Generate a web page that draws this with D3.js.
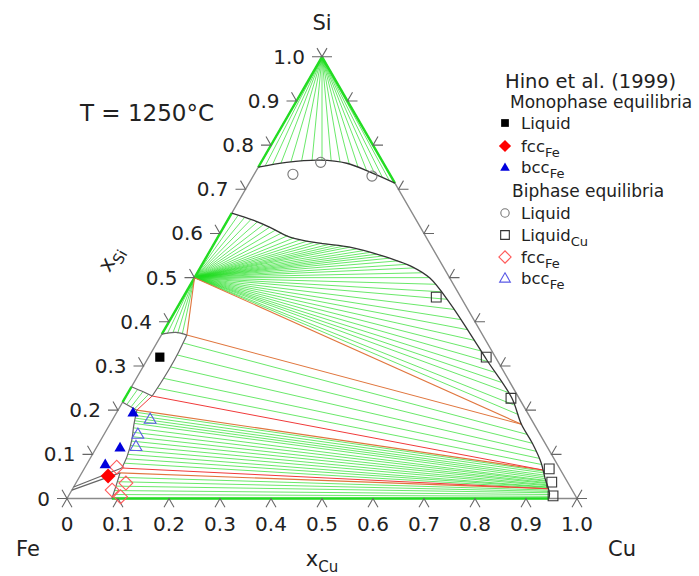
<!DOCTYPE html>
<html><head><meta charset="utf-8">
<script src="https://cdnjs.cloudflare.com/ajax/libs/d3/7.8.5/d3.min.js"></script>
<style>
body{margin:0;background:#fff}
svg{display:block}
text{font-family:"DejaVu Sans",Verdana,sans-serif;fill:#222}
</style></head>
<body><svg id="chart" width="699" height="576"></svg>
<script>
// ---------- DATA (ternary compositions: [xCu, xSi]) ----------
const tickValues = [0,0.1,0.2,0.3,0.4,0.5,0.6,0.7,0.8,0.9,1.0];
const tickLabels = ["0","0.1","0.2","0.3","0.4","0.5","0.6","0.7","0.8","0.9","1.0"];

const siCorner = [0,1];
const feSiPoint = [0,0.5];

// Si-rich liquidus boundary
const upperLiquidus = [[0,0.75],[0.05,0.761],[0.113,0.766],[0.169,0.759],[0.225,0.739],[0.286,0.714]];
// tie-line ends on it (Si + Liquid)
const siFanEnds = [[0.012,0.753],[0.025,0.756],[0.04,0.759],[0.058,0.762],[0.078,0.764],[0.098,0.765],
  [0.117,0.766],[0.136,0.764],[0.155,0.761],[0.175,0.757],[0.195,0.751],[0.215,0.744],[0.235,0.736],
  [0.255,0.727],[0.272,0.72]];

// Liquid(Cu) boundary
const liqCuCurve = [[0,0.646],[0.05,0.630],[0.091,0.614],[0.141,0.592],[0.207,0.578],[0.270,0.569],
  [0.338,0.551],[0.416,0.524],[0.462,0.499],[0.530,0.442],[0.603,0.374],[0.667,0.313],[0.758,0.228],
  [0.807,0.168],[0.850,0.125],[0.890,0.080],[0.915,0.045],[0.930,0.026],[0.940,0.012],[0.945,0]];
// FeSi + Liquid tie-line ends
const feSiFanEnds = [[0.015,0.641],[0.03,0.636],[0.045,0.632],[0.06,0.626],[0.075,0.620],[0.09,0.614],
  [0.105,0.608],[0.12,0.601],[0.135,0.595],[0.15,0.590],[0.165,0.586],[0.18,0.583],[0.195,0.580],
  [0.21,0.578],[0.225,0.575],[0.24,0.573],[0.255,0.571],[0.27,0.569],[0.285,0.565],[0.30,0.561],
  [0.315,0.557],[0.33,0.553],[0.345,0.549],[0.36,0.544],[0.38,0.538],[0.40,0.530],[0.42,0.522],
  [0.44,0.511],[0.46,0.500],[0.48,0.485],[0.50,0.468],[0.52,0.451],[0.545,0.428],[0.57,0.405],
  [0.595,0.382],[0.62,0.358],[0.645,0.334],[0.67,0.310],[0.695,0.286],[0.72,0.263],[0.745,0.240],
  [0.77,0.212],[0.79,0.190]];
// FeSi + Liquid(Fe-Si) short ties
const feSiL1Ends = [[0.01,0.373],[0.02,0.375],[0.03,0.374],[0.04,0.372]];

// Fe-Si liquid region boundaries
const l1Top = [[0,0.372],[0.025,0.376],[0.05,0.37]];
const l1Right = [[0.05,0.37],[0.053,0.333],[0.054,0.296],[0.053,0.262],[0.051,0.232]];
const l1Bottom = [[0,0.253],[0.03,0.241],[0.051,0.232]];
// bcc / fcc boundaries
const bccTop = [[0,0.218],[0.037,0.2]];
const bccRight = [[0.037,0.2],[0.048,0.166],[0.061,0.132],[0.07,0.096],[0.073,0.069]];
const fccRight = [[0.075,0.058],[0.082,0.028],[0.088,0]];
const lensUpper = [[0,0.026],[0.073,0.069]];
const lensLower = [[0,0.019],[0.075,0.058]];

// tie lines
const tiesL1LCu = [[[0.052,0.352],[0.83,0.145]],[[0.0535,0.325],[0.85,0.125]],[[0.054,0.298],[0.866,0.107]],
  [[0.0535,0.272],[0.88,0.091]],[[0.052,0.250],[0.892,0.077]]];
const tiesL1Bcc = [[[0.015,0.247],[0.011,0.213]],[[0.028,0.242],[0.022,0.208]],[[0.042,0.236],[0.031,0.203]]];
const tiesBccLCu = [[[0.039,0.195],[0.903,0.062]],[[0.041,0.188],[0.906,0.058]],[[0.043,0.182],[0.909,0.053]],
  [[0.045,0.176],[0.912,0.049]],[[0.047,0.170],[0.915,0.045]],[[0.050,0.160],[0.918,0.041]],
  [[0.054,0.150],[0.920,0.039]],[[0.058,0.140],[0.922,0.036]],[[0.061,0.130],[0.924,0.034]],
  [[0.064,0.120],[0.926,0.031]],[[0.067,0.110],[0.928,0.029]],[[0.069,0.100],[0.930,0.026]],
  [[0.071,0.090],[0.931,0.025]],[[0.072,0.080],[0.932,0.023]]];
const tiesFccLCu = [[[0.078,0.048],[0.935,0.019]],[[0.080,0.038],[0.937,0.016]],[[0.082,0.028],[0.939,0.013]],
  [[0.084,0.018],[0.941,0.009]],[[0.086,0.009],[0.943,0.005]]];
// thick edge tie segments
const edgeGreen = [[[0,0.75],[0,1]],[[0.286,0.714],[0,1]],[[0,0.5],[0,0.646]],[[0,0.372],[0,0.5]],
  [[0,0.218],[0,0.253]],[[0.088,0],[0.945,0]]];

// three-phase triangles
const orangeLines = [[[0,0.5],[0.807,0.168]],[[0,0.5],[0.05,0.37]],[[0.05,0.37],[0.807,0.168]],
  [[0.037,0.2],[0.901,0.0645]],[[0.075,0.058],[0.933,0.022]]];
const redLines = [[[0.051,0.232],[0.901,0.0645]],[[0.051,0.232],[0.037,0.2]],[[0.073,0.069],[0.933,0.022]]];

// experimental points (Hino et al. 1999)
const monoLiquid = [[0.022,0.320]];
const monoFcc = [[0.055,0.051]];
const monoBcc = [[0.033,0.193],[0.047,0.114],[0.037,0.076]];
const biLiquid = [[0.076,0.734],[0.117,0.761],[0.233,0.730]];
const biLiquidCu = [[0.496,0.456],[0.662,0.320],[0.757,0.227],[0.912,0.067],[0.932,0.037],[0.950,0.006]];
const biFcc = [[0.062,0.071],[0.098,0.035],[0.079,0.019],[0.103,0.004]];
const biBcc = [[0.074,0.178],[0.067,0.144],[0.077,0.1165]];

// ---------- DRAWING ----------
const svg = d3.select("#chart");
const xScale = d3.scaleLinear().domain([0,1]).range([67,577]);
const yScale = d3.scaleLinear().domain([0,1]).range([498.5,56.8]);
const X = d => xScale(d[0] + d[1]/2);
const Y = d => yScale(d[1]);
const straight = d3.line().x(X).y(Y);
const smooth = d3.line().x(X).y(Y).curve(d3.curveCatmullRom);

const GREEN = "#22dd22", ORANGE = "#e0763e", RED = "#f03a3a";

// triangle frame
svg.append("path").attr("d", straight([[0,0],[1,0],[0,1],[0,0]]))
  .attr("fill","none").attr("stroke","#8a8a8a").attr("stroke-width",1.4);

const gTies = svg.append("g").attr("fill","none").attr("stroke",GREEN).attr("stroke-width",0.8).attr("stroke-opacity",0.85);
siFanEnds.forEach(e => gTies.append("path").attr("d", straight([siCorner,e])));
feSiFanEnds.forEach(e => gTies.append("path").attr("d", straight([feSiPoint,e])));
feSiL1Ends.forEach(e => gTies.append("path").attr("d", straight([feSiPoint,e])));
[tiesL1LCu,tiesL1Bcc,tiesBccLCu,tiesFccLCu].forEach(arr =>
  arr.forEach(t => gTies.append("path").attr("d", straight(t))));
edgeGreen.forEach(t => svg.append("path").attr("d", straight(t)).attr("fill","none")
  .attr("stroke",GREEN).attr("stroke-width",2.4));

orangeLines.forEach(t => svg.append("path").attr("d", straight(t)).attr("fill","none")
  .attr("stroke",ORANGE).attr("stroke-width",1.1));
redLines.forEach(t => svg.append("path").attr("d", straight(t)).attr("fill","none")
  .attr("stroke",RED).attr("stroke-width",1.0));

// phase boundaries
[upperLiquidus, liqCuCurve].forEach(c => svg.append("path").attr("d", smooth(c))
  .attr("fill","none").attr("stroke","#333").attr("stroke-width",1.3));
[l1Top,l1Right,l1Bottom,bccTop,bccRight,fccRight,lensUpper,lensLower].forEach(c =>
  svg.append("path").attr("d", smooth(c)).attr("fill","none").attr("stroke","#666").attr("stroke-width",1.2));

// ticks
const tk = 10, c60 = 0.5*tk, s60 = 0.866*tk;
const gt = svg.append("g").attr("stroke","#666").attr("stroke-width",1.1).attr("fill","none");
tickValues.forEach(v => {
  const L = [0,v], R = [1-v,v], B = [v,0];
  let x = X(L), y = Y(L);
  gt.append("path").attr("d",`M${x-tk},${y}L${x},${y}L${x-c60},${y-s60}`);
  x = X(R); y = Y(R);
  gt.append("path").attr("d",`M${x+tk},${y}L${x},${y}L${x+c60},${y-s60}`);
  x = X(B); y = Y(B);
  gt.append("path").attr("d",`M${x-c60},${y+s60}L${x},${y}L${x+c60},${y+s60}`);
});
tickValues.forEach((v,i) => {
  svg.append("text").attr("x", X([0,v]) - 17).attr("y", Y([0,v]) + 7)
    .attr("text-anchor","end").attr("font-size",20).text(tickLabels[i]);
  svg.append("text").attr("x", X([v,0])).attr("y", 531)
    .attr("text-anchor","middle").attr("font-size",20).text(tickLabels[i]);
});

// markers
function marks(data, type, size, fill, stroke, rot) {
  const sym = d3.symbol().type(type).size(size);
  data.forEach(d => svg.append("path").attr("d", sym())
    .attr("transform", `translate(${X(d)},${Y(d)}) rotate(${rot||0})`)
    .attr("fill", fill).attr("stroke", stroke).attr("stroke-width", 1.1));
}
marks(biLiquid, d3.symbolCircle, 80, "none", "#777");
marks(biLiquidCu, d3.symbolSquare, 95, "none", "#333");
marks(biFcc, d3.symbolSquare, 95, "none", "#ff5a5a", 45);
marks(biBcc, d3.symbolTriangle, 60, "none", "#5a5ae6");
marks(monoLiquid, d3.symbolSquare, 85, "#000", "none");
marks(monoFcc, d3.symbolSquare, 110, "#ff0000", "none", 45);
marks(monoBcc, d3.symbolTriangle, 55, "#0000dd", "none");

// corner & axis labels
svg.append("text").attr("x",322).attr("y",30).attr("text-anchor","middle").attr("font-size",21).text("Si");
svg.append("text").attr("x",28).attr("y",556).attr("text-anchor","middle").attr("font-size",21).text("Fe");
svg.append("text").attr("x",622).attr("y",556).attr("text-anchor","middle").attr("font-size",21).text("Cu");
const xc = svg.append("text").attr("x",322).attr("y",566).attr("text-anchor","middle").attr("font-size",21);
xc.append("tspan").text("x");
xc.append("tspan").attr("font-size",15).attr("dy",6).text("Cu");
const xsi = svg.append("text").attr("transform","translate(116,262) rotate(-60)").attr("text-anchor","middle").attr("font-size",21);
xsi.append("tspan").text("x");
xsi.append("tspan").attr("font-size",15).attr("dy",6).text("Si");

svg.append("text").attr("x",80).attr("y",121).attr("font-size",23).text("T = 1250°C");

// legend
svg.append("text").attr("x",505).attr("y",88).attr("font-size",19.5).text("Hino et al. (1999)");
svg.append("text").attr("x",510).attr("y",108).attr("font-size",17).text("Monophase equilibria");
svg.append("text").attr("x",512).attr("y",197).attr("font-size",17).text("Biphase equilibria");
const legendItems = [
  {y:123, ty:129, label:"Liquid", sub:"", type:d3.symbolSquare, size:60, fill:"#000", stroke:"none", rot:0},
  {y:146, ty:152, label:"fcc", sub:"Fe", type:d3.symbolSquare, size:75, fill:"#ff0000", stroke:"none", rot:45},
  {y:168, ty:173, label:"bcc", sub:"Fe", type:d3.symbolTriangle, size:40, fill:"#0000dd", stroke:"none", rot:0},
  {y:213, ty:219, label:"Liquid", sub:"", type:d3.symbolCircle, size:55, fill:"none", stroke:"#777", rot:0},
  {y:235, ty:241, label:"Liquid", sub:"Cu", type:d3.symbolSquare, size:75, fill:"none", stroke:"#333", rot:0},
  {y:257, ty:263, label:"fcc", sub:"Fe", type:d3.symbolSquare, size:75, fill:"none", stroke:"#ff5a5a", rot:45},
  {y:279, ty:284, label:"bcc", sub:"Fe", type:d3.symbolTriangle, size:50, fill:"none", stroke:"#5a5ae6", rot:0}
];
legendItems.forEach(it => {
  svg.append("path").attr("d", d3.symbol().type(it.type).size(it.size)())
    .attr("transform",`translate(505,${it.y}) rotate(${it.rot})`)
    .attr("fill",it.fill).attr("stroke",it.stroke).attr("stroke-width",1.1);
  const t = svg.append("text").attr("x",521).attr("y",it.ty).attr("font-size",16.5);
  t.append("tspan").text(it.label);
  if (it.sub) t.append("tspan").attr("font-size",13).attr("dy",5).text(it.sub);
});
</script></body></html>
